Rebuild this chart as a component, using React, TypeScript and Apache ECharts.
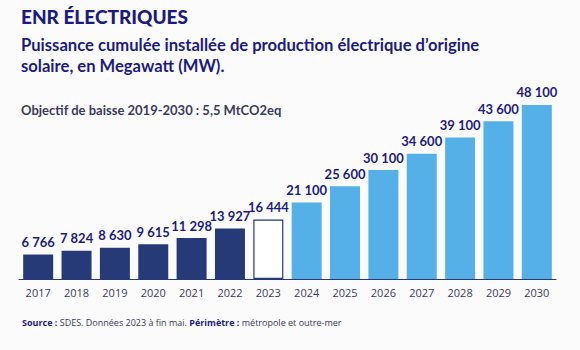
import React, { useEffect, useRef } from "react";
import * as echarts from "echarts";

const years = ["2017", "2018", "2019", "2020", "2021", "2022", "2023", "2024", "2025", "2026", "2027", "2028", "2029", "2030"];
const values = [6766, 7824, 8630, 9615, 11298, 13927, 16444, 21100, 25600, 30100, 34600, 39100, 43600, 48100];
const status = ["réalisé", "réalisé", "réalisé", "réalisé", "réalisé", "réalisé", "partiel", "objectif", "objectif", "objectif", "objectif", "objectif", "objectif", "objectif"];

const title = "ENR ÉLECTRIQUES";
const subtitle1 = "Puissance cumulée installée de production électrique d’origine";
const subtitle2 = "solaire, en Megawatt (MW).";
const objectif = "Objectif de baisse 2019-2030 : 5,5 MtCO2eq";

const NAVY = "#263a78";
const LIGHT = "#56b0e8";
const TEXT_BLUE = "#1b1b7e";
const FONT = "Lato, 'Open Sans', sans-serif";
const FONT2 = "'Open Sans', 'Noto Sans', sans-serif";

const fmt = (v: number) => String(v).replace(/\B(?=(\d{3})+(?!\d))/g, " ");

export default function App() {
  const ref = useRef<HTMLDivElement>(null);
  useEffect(() => {
    if (!ref.current) return;
    const chart = echarts.init(ref.current, undefined, { renderer: "svg" });
    const data = values.map((v, i) => {
      const s = status[i];
      let itemStyle: any;
      if (s === "réalisé") itemStyle = { color: NAVY };
      else if (s === "partiel") itemStyle = { color: "#ffffff", borderColor: NAVY, borderWidth: 1.2 };
      else itemStyle = { color: LIGHT };
      return { value: v, itemStyle };
    });
    chart.setOption({
      animation: false,
      backgroundColor: "#fbfbfb",
      grid: { left: 19, right: 24, top: 98, bottom: 71 },
      xAxis: {
        type: "category",
        data: years,
        axisLine: { lineStyle: { color: NAVY, width: 1 } },
        axisTick: { alignWithLabel: true, length: 4, lineStyle: { color: NAVY } },
        axisLabel: { color: "#3c3c5c", fontSize: 11, fontFamily: FONT2, margin: 8 },
      },
      yAxis: {
        type: "value",
        min: 0,
        max: 50000,
        show: false,
        splitLine: { show: false },
      },
      series: [
        {
          type: "bar",
          data,
          barWidth: 30,
          label: {
            show: true,
            position: "top",
            distance: 6,
            color: TEXT_BLUE,
            fontSize: 13,
            fontWeight: "bold",
            fontFamily: FONT,
            formatter: (p: any) => fmt(p.value),
          },
        },
      ],
      graphic: [
        { type: "text", left: 21, top: 7, style: { text: title, fill: TEXT_BLUE, font: `900 19px ${FONT}` } },
        { type: "text", left: 21, top: 36, style: { text: subtitle1, fill: TEXT_BLUE, font: `bold 16.6px ${FONT}` } },
        { type: "text", left: 21, top: 57, style: { text: subtitle2, fill: TEXT_BLUE, font: `bold 16.6px ${FONT}` } },
        { type: "text", left: 21, top: 103, style: { text: objectif, fill: "#3a3a5c", font: `bold 13px ${FONT}` } },
        {
          type: "text",
          left: 22,
          top: 318,
          style: {
            text: "{b|Source :} SDES. Données 2023 à fin mai. {b|Périmètre :} métropole et outre-mer",
            fill: "#3a3a5c",
            font: `9px ${FONT2}`,
            rich: { b: { fontWeight: "bold", fill: TEXT_BLUE, fontSize: 9, fontFamily: FONT2 } },
          },
        },
      ],
    });
    return () => chart.dispose();
  }, []);
  return <div ref={ref} style={{ width: 580, height: 350, position: "absolute", left: 0, top: 0 }} />;
}
